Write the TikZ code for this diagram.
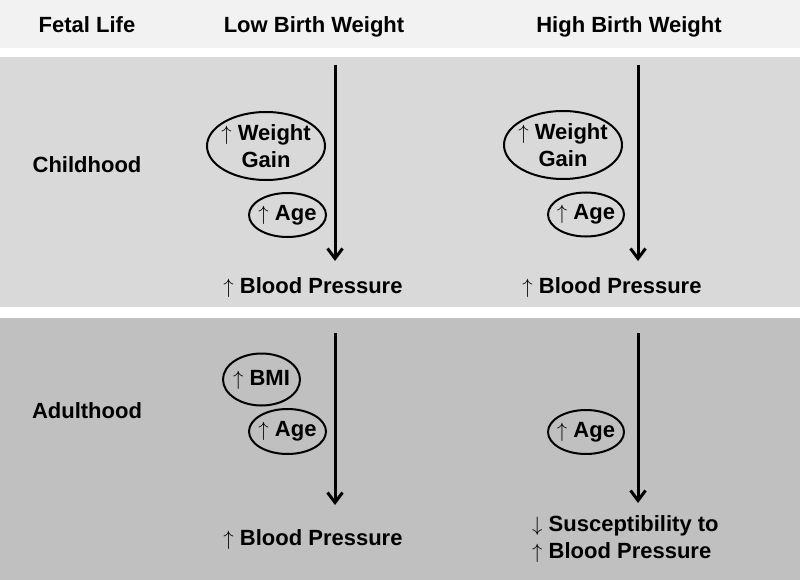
\documentclass[tikz,border=0pt]{standalone}
\usepackage{fontspec}
\setmainfont{Liberation Sans}
\usetikzlibrary{positioning,shapes.geometric,arrows.meta}
\definecolor{headgray}{HTML}{F2F2F2}
\definecolor{childgray}{HTML}{D9D9D9}
\definecolor{adultgray}{HTML}{C0C0C0}
\newcommand{\upar}{$\uparrow$\ }
\newcommand{\dnar}{$\downarrow$\ }
\tikzstyle{txt}=[font=\bfseries\fontsize{22}{27}\selectfont,inner sep=0pt]
\tikzstyle{factor}=[draw,ellipse,txt,align=center,line width=2pt,inner xsep=-6pt,inner ysep=-4pt]
\tikzstyle{flow}=[-{Straight Barb[length=10pt,width=15pt]},line width=3pt]
\newcommand{\newFactor}[5]{\node[factor,minimum width=#3,minimum height=#4](#1) at #5 {#2};}
\newcommand{\newFlow}[4]{\coordinate (#1top) at #2; \coordinate (#1end) at #3; \draw[flow,#4] (#1top) -- (#1end);}

\begin{document}
\begin{tikzpicture}[x=1pt,y=-1pt]
    \useasboundingbox (0,0) rectangle (800,580);
    \fill[white] (0,0) rectangle (800,580);
    % bands
    \fill[headgray] (0,0) rectangle (800,48);
    \fill[childgray] (0,57) rectangle (800,307);
    \fill[adultgray] (0,318) rectangle (800,580);
    % headings
    \node[txt,anchor=base] (fetal) at (87,33) {Fetal Life};
    \node[txt,anchor=base] (lbw) at (314,33) {Low Birth Weight};
    \node[txt,anchor=base] (hbw) at (629,33) {High Birth Weight};
    \node[txt,anchor=base] (child) at (87,173) {Childhood};
    \node[txt,anchor=base] (adult) at (87,418) {Adulthood};
    % childhood
    \newFactor{lwg}{\upar Weight\\Gain}{118pt}{68pt}{(266,146)}
    \newFactor{lage}{\upar Age}{77pt}{44pt}{(287.5,215)}
    \newFlow{lc}{(335,65)}{(335,261)}{}
    \node[txt,anchor=base] (lbp) at (313,293) {\upar Blood Pressure};
    \newFactor{hwg}{\upar Weight\\Gain}{118pt}{68pt}{(563,145)}
    \newFactor{hage}{\upar Age}{76pt}{44pt}{(586,214.5)}
    \newFlow{hc}{(638,65)}{(638,261)}{}
    \node[txt,anchor=base] (hbp) at (612,293) {\upar Blood Pressure};
    % adulthood
    \newFactor{lbmi}{\upar BMI}{77pt}{52pt}{(261.5,379.5)}
    \newFactor{laage}{\upar Age}{77pt}{45pt}{(287.5,431.5)}
    \newFlow{la}{(335,333)}{(335,505)}{}
    \node[txt,anchor=base] (labp) at (313,545) {\upar Blood Pressure};
    \newFactor{haage}{\upar Age}{76pt}{44pt}{(586,432)}
    \newFlow{ha}{(638,333)}{(638,503)}{}
    \node[txt,align=left,anchor=north west] (hsus) at (532,515.5) {\dnar Susceptibility to\\\upar Blood Pressure};
\end{tikzpicture}
\end{document}
